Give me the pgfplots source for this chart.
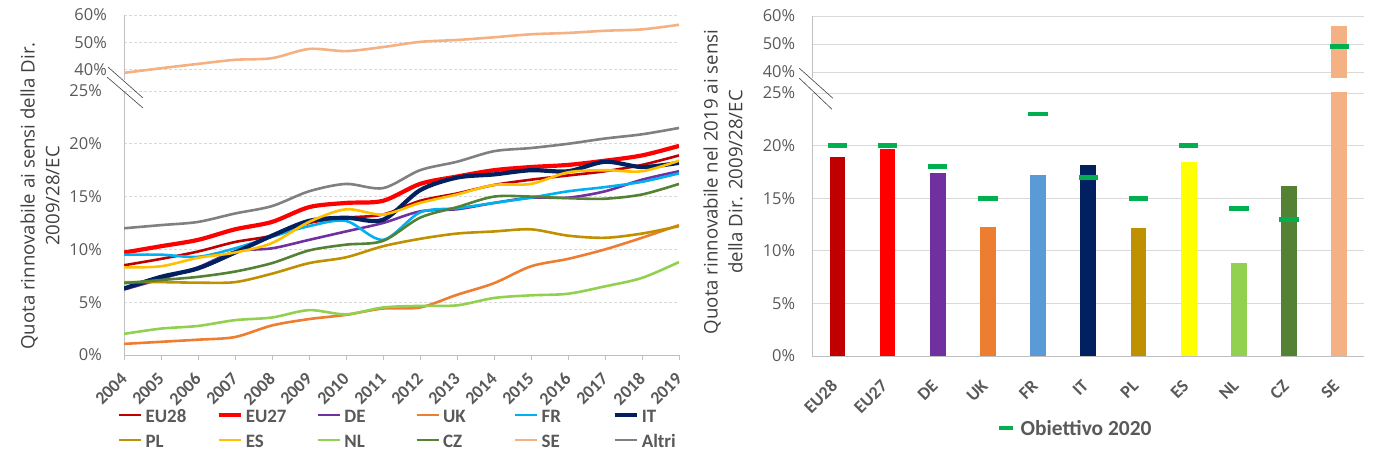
\documentclass[border=0pt]{standalone}
\usepackage{pgfplots}
\pgfplotsset{compat=1.18}
\usepackage{pgfplotstable}
\usepackage{fontspec}
\setmainfont{Carlito}
\newfontfamily\osans{Open Sans}
\definecolor{cEUa}{HTML}{C00000}
\definecolor{cEUb}{HTML}{FF0000}
\definecolor{cDE}{HTML}{7030A0}
\definecolor{cUK}{HTML}{ED7D31}
\definecolor{cFR}{HTML}{00B0F0}
\definecolor{cFRbar}{HTML}{5B9BD5}
\definecolor{cIT}{HTML}{002060}
\definecolor{cPL}{HTML}{BF9000}
\definecolor{cES}{HTML}{FFC000}
\definecolor{cESbar}{HTML}{FFFF00}
\definecolor{cNL}{HTML}{92D050}
\definecolor{cCZ}{HTML}{548235}
\definecolor{cSE}{HTML}{F4B183}
\definecolor{cAl}{HTML}{808080}
\definecolor{cTg}{HTML}{00B050}
\definecolor{txt}{HTML}{595959}
\definecolor{lbl}{HTML}{404040}
\definecolor{gridc}{HTML}{D9D9D9}
\definecolor{axl}{HTML}{BFBFBF}

\pgfplotstableread{
year EU28 EU27 DE UK FR IT PL ES NL CZ SE Altri
2004 8.5 9.7 6.2 1.05 9.5 6.3 6.9 8.3 2.0 6.8 38.7 12.0
2005 9.1 10.3 7.2 1.25 9.5 7.4 6.9 8.4 2.5 7.1 40.4 12.3
2006 9.8 10.9 8.3 1.45 9.3 8.2 6.85 9.2 2.75 7.4 42.0 12.6
2007 10.7 11.9 9.8 1.7 10.1 9.7 6.9 9.7 3.3 7.9 43.5 13.4
2008 11.3 12.6 10.1 2.8 11.2 11.3 7.7 10.6 3.55 8.7 44.1 14.1
2009 12.5 14.0 10.9 3.4 12.2 12.7 8.7 12.6 4.25 9.9 47.5 15.5
2010 13.0 14.4 11.7 3.8 12.7 13.0 9.25 13.8 3.85 10.45 46.7 16.2
2011 13.3 14.6 12.5 4.4 10.9 12.8 10.3 13.3 4.5 10.8 48.2 15.8
2012 14.6 16.2 13.6 4.5 13.5 15.6 11.0 14.4 4.65 13.0 50.1 17.5
2013 15.3 16.9 13.8 5.7 13.9 16.8 11.5 15.2 4.7 14.0 50.8 18.3
2014 16.1 17.5 14.4 6.8 14.4 17.1 11.7 16.1 5.4 15.0 51.8 19.3
2015 16.6 17.8 14.9 8.4 14.9 17.5 11.9 16.2 5.65 15.0 52.9 19.6
2016 17.0 18.0 14.9 9.1 15.5 17.4 11.3 17.3 5.8 14.85 53.4 20.0
2017 17.4 18.4 15.5 10.0 15.9 18.3 11.1 17.5 6.5 14.8 54.2 20.5
2018 18.0 18.9 16.6 11.1 16.4 17.8 11.5 17.4 7.3 15.2 54.7 20.9
2019 18.9 19.8 17.4 12.3 17.2 18.2 12.2 18.4 8.8 16.2 56.4 21.5
}\linedata

\pgfplotstableread{
x target
0 20
1 20
2 18
3 15
4 23
5 17
6 15
7 20
8 14
9 13
}\targets

\pgfplotsset{
  thinl/.style={line width=2.6bp, smooth, tension=0.5},
  thickl/.style={line width=4.2bp, smooth, tension=0.5},
  ylabs/.style={yticklabel style={font=\osans\fontsize{16.5}{18}\selectfont, text=txt, inner sep=0pt, xshift=-17bp}},
  common/.style={scale only axis, axis lines*=left,
    axis line style={draw=axl, line width=0.8bp},
    ytick style={draw=none}, ymajorgrids, ylabs},
}

\begin{document}
\begin{tikzpicture}
\path[use as bounding box] (0bp,0bp) rectangle (1386bp,453bp);

% ---------------- LEFT: lower part ----------------
\begin{axis}[common,
  at={(124bp,98bp)}, anchor=south west, width=555bp, height=264bp,
  xmin=2004, xmax=2019, ymin=0, ymax=25,
  grid style={draw=gridc, line width=0.8bp, dash pattern=on 3bp off 2bp},
  xtick={2004,2005,2006,2007,2008,2009,2010,2011,2012,2013,2014,2015,2016,2017,2018,2019},
  xticklabels={2004,2005,2006,2007,2008,2009,2010,2011,2012,2013,2014,2015,2016,2017,2018,2019},
  xtick style={draw=axl, line width=0.8bp}, tick align=outside, major tick length=5bp,
  xticklabel style={yshift=-16bp, rotate=45, anchor=east, inner sep=0pt, font=\bfseries\fontsize{18}{20}\selectfont, text=txt},
  ytick={0,5,10,15,20,25}, yticklabels={0\%,5\%,10\%,15\%,20\%,25\%},
  legend columns=6,
  legend style={at={(axis description cs:-0.0108,-0.2008)}, anchor=north west, draw=none, fill=none,
    inner sep=0pt, outer sep=0pt, column sep=0pt, row sep=11bp,
    font=\bfseries\fontsize{19}{20}\selectfont, text=txt,
    nodes={inner sep=0pt, text height=14bp, text depth=0bp},
    /tikz/every odd column/.append style={column sep=3bp}},
  legend cell align=left,
  legend image code/.code={\draw[#1] (0bp,0bp) -- (22bp,0bp);},
]
\addplot[cEUa, thinl] table[x=year,y=EU28]{\linedata};
\addlegendentry{\makebox[71bp][l]{EU28}}
\addplot[cEUb, thickl] table[x=year,y=EU27]{\linedata};
\addlegendentry{\makebox[71bp][l]{EU27}}
\addplot[cDE, thinl] table[x=year,y=DE]{\linedata};
\addlegendentry{\makebox[71bp][l]{DE}}
\addplot[cUK, thinl] table[x=year,y=UK]{\linedata};
\addlegendentry{\makebox[71bp][l]{UK}}
\addplot[cFR, thinl] table[x=year,y=FR]{\linedata};
\addlegendentry{\makebox[71bp][l]{FR}}
\addplot[cIT, thickl] table[x=year,y=IT]{\linedata};
\addlegendentry{\makebox[71bp][l]{IT}}
\addplot[cPL, thinl] table[x=year,y=PL]{\linedata};
\addlegendentry{\makebox[71bp][l]{PL}}
\addplot[cES, thinl] table[x=year,y=ES]{\linedata};
\addlegendentry{\makebox[71bp][l]{ES}}
\addplot[cNL, thinl] table[x=year,y=NL]{\linedata};
\addlegendentry{\makebox[71bp][l]{NL}}
\addplot[cCZ, thinl] table[x=year,y=CZ]{\linedata};
\addlegendentry{\makebox[71bp][l]{CZ}}
\addlegendimage{cSE, line width=2.6bp}
\addlegendentry{\makebox[71bp][l]{SE}}
\addplot[cAl, thinl] table[x=year,y=Altri]{\linedata};
\addlegendentry{\makebox[71bp][l]{Altri}}
\end{axis}

% ---------------- LEFT: upper part ----------------
\begin{axis}[common,
  at={(124bp,372.8bp)}, anchor=south west, width=555bp, height=65.2bp,
  xmin=2004, xmax=2019, ymin=36, ymax=60,
  x axis line style={draw=none}, xtick=\empty,
  grid style={draw=gridc, line width=0.8bp, dash pattern=on 3bp off 2bp},
  ytick={40,50,60}, yticklabels={40\%,50\%,60\%},
]
\addplot[cSE, thinl] table[x=year,y=SE]{\linedata};
\end{axis}

\draw[lbl, line width=0.6bp] (108bp,386bp) -- (143bp,355bp);
\draw[lbl, line width=0.6bp] (107bp,376bp) -- (143bp,345bp);

\node[rotate=90, align=center, font=\osans\fontsize{18.7}{25}\selectfont, text=lbl] at (40bp,257bp)
  {Quota rinnovabile ai sensi della Dir.\\2009/28/EC};

% ---------------- RIGHT: lower part ----------------
\begin{axis}[common,
  at={(812.3bp,97bp)}, anchor=south west, width=552bp, height=263bp,
  xmin=-0.5, xmax=10.5, ymin=0, ymax=25,
  grid style={draw=gridc, line width=0.8bp},
  xtick={0,1,2,3,4,5,6,7,8,9,10},
  xticklabels={EU28,EU27,DE,UK,FR,IT,PL,ES,NL,CZ,SE},
  xtick style={draw=none},
  xticklabel style={xshift=-3bp, yshift=-27bp, rotate=45, anchor=east, inner sep=0pt, font=\bfseries\fontsize{18}{20}\selectfont, text=txt},
  ytick={0,5,10,15,20,25}, yticklabels={0\%,5\%,10\%,15\%,20\%,25\%},
  legend style={at={(axis description cs:0.3346,-0.2738)}, anchor=west, draw=none, fill=none,
    inner sep=0pt, outer sep=0pt, column sep=0pt,
    font=\bfseries\fontsize{21.5}{22}\selectfont, text=txt,
    nodes={inner sep=0pt, text height=14bp, text depth=0bp},
    /tikz/every odd column/.append style={column sep=6bp}},
]
\addplot[ybar, bar shift=0pt, bar width=15.7bp, fill=cEUa, draw=none, forget plot] coordinates {(0,18.9)};
\addplot[ybar, bar shift=0pt, bar width=15.7bp, fill=cEUb, draw=none, forget plot] coordinates {(1,19.7)};
\addplot[ybar, bar shift=0pt, bar width=15.7bp, fill=cDE, draw=none, forget plot] coordinates {(2,17.4)};
\addplot[ybar, bar shift=0pt, bar width=15.7bp, fill=cUK, draw=none, forget plot] coordinates {(3,12.3)};
\addplot[ybar, bar shift=0pt, bar width=15.7bp, fill=cFRbar, draw=none, forget plot] coordinates {(4,17.2)};
\addplot[ybar, bar shift=0pt, bar width=15.7bp, fill=cIT, draw=none, forget plot] coordinates {(5,18.2)};
\addplot[ybar, bar shift=0pt, bar width=15.7bp, fill=cPL, draw=none, forget plot] coordinates {(6,12.2)};
\addplot[ybar, bar shift=0pt, bar width=15.7bp, fill=cESbar, draw=none, forget plot] coordinates {(7,18.4)};
\addplot[ybar, bar shift=0pt, bar width=15.7bp, fill=cNL, draw=none, forget plot] coordinates {(8,8.8)};
\addplot[ybar, bar shift=0pt, bar width=15.7bp, fill=cCZ, draw=none, forget plot] coordinates {(9,16.2)};
\addplot[ybar, bar shift=0pt, bar width=15.7bp, fill=cSE, draw=none, forget plot] coordinates {(10,56.4)};
\addplot[only marks, mark=-, mark size=9.65bp, mark options={draw=cTg, line width=4.7bp}, forget plot]
  table[x=x,y=target]{\targets};
\addlegendimage{legend image code/.code={\draw[cTg, line width=4bp] (0bp,0bp) -- (13.7bp,0bp);}}
\addlegendentry{Obiettivo 2020}
\end{axis}

% ---------------- RIGHT: upper part ----------------
\begin{axis}[common,
  at={(812.3bp,374.7bp)}, anchor=south west, width=552bp, height=62.3bp,
  xmin=-0.5, xmax=10.5, ymin=37.75, ymax=60,
  x axis line style={draw=none}, xtick=\empty,
  grid style={draw=gridc, line width=0.8bp},
  ytick={40,50,60}, yticklabels={40\%,50\%,60\%},
]
\addplot[ybar, bar shift=0pt, bar width=15.7bp, fill=cSE, draw=none, forget plot] coordinates {(10,56.4)};
\addplot[only marks, mark=-, mark size=9.65bp, mark options={draw=cTg, line width=4.7bp}, forget plot]
  coordinates {(10,49)};
\end{axis}

\draw[lbl, line width=0.6bp] (799.4bp,384.7bp) -- (832.9bp,354.7bp);
\draw[lbl, line width=0.6bp] (799.4bp,374.7bp) -- (832bp,343.7bp);

\node[rotate=90, align=center, font=\osans\fontsize{18.7}{25}\selectfont, text=lbl] at (723bp,271bp)
  {Quota rinnovabile nel 2019 ai sensi\\della Dir. 2009/28/EC};
\end{tikzpicture}
\end{document}
